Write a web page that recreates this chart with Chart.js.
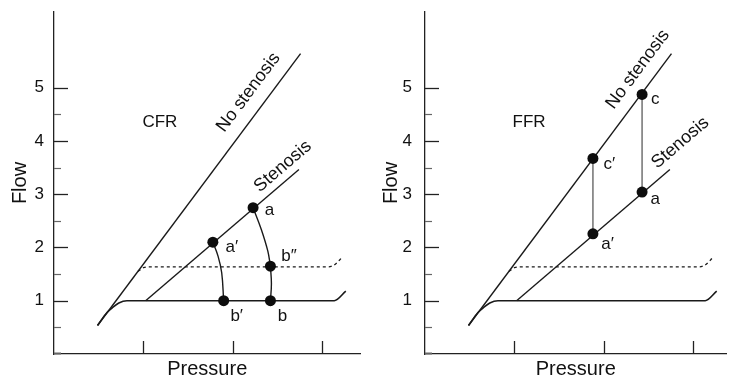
<!DOCTYPE html>
<html><head><meta charset="utf-8">
<script src="https://cdn.jsdelivr.net/npm/chart.js@4/dist/chart.umd.min.js"></script>
<style>
html,body{margin:0;padding:0;background:#fff;overflow:hidden}
.panel{position:absolute;top:0;width:366px;height:379px}
</style></head><body>
<div class="panel" style="left:0"><canvas id="cfr" width="366" height="379"></canvas></div>
<div class="panel" style="left:366px"><canvas id="ffr" width="366" height="379"></canvas></div>
<script>
// ---- axis ticks ----
const flowTickValues = [1, 2, 3, 4, 5];
const flowMinorTickValues = [0, 0.5, 1.5, 2.5, 3.5, 4.5];
const pressureTickValues = [1, 2, 3];

// ---- pressure-flow relations (shared by both panels) ----
const noStenosisX = [0.487, 2.758];
const noStenosisY = [0.535, 5.638];
const stenosisX = [1.025, 2.74];
const stenosisY = [1.0, 3.465];
const restFlowX = [0.487, 0.593, 0.652, 0.725, 0.816, 3.135, 3.264];
const restFlowY = [0.535, 0.779, 0.867, 0.957, 1.0, 1.0, 1.179];
const hyperFlowX = [0.94, 1.0, 1.08, 3.07, 3.15, 3.22];
const hyperFlowY = [1.55, 1.62, 1.635, 1.635, 1.69, 1.81];

// ---- CFR panel ----
const cfrPointLabels = ['a', 'a\u2032', 'b\u2033', 'b', 'b\u2032'];
const cfrPointX = [2.227, 1.777, 2.421, 2.421, 1.898];
const cfrPointY = [2.746, 2.10, 1.649, 1.0, 1.0];
const cfrLabelX = [2.41, 1.989, 2.63, 2.557, 2.044];
const cfrLabelY = [2.70, 1.994, 1.837, 0.71, 0.71];
const arcAB2X = [2.227, 2.319, 2.392, 2.421];
const arcAB2Y = [2.746, 2.338, 1.931, 1.649];
const arcB2BX = [2.421, 2.432, 2.421];
const arcB2BY = [1.649, 1.32, 1.0];
const arcA1B1X = [1.777, 1.835, 1.876, 1.898];
const arcA1B1Y = [2.10, 1.837, 1.525, 1.0];

// ---- FFR panel ----
const ffrPointLabels = ['c', 'c\u2032', 'a', 'a\u2032'];
const ffrPointX = [2.429, 1.879, 2.429, 1.879];
const ffrPointY = [4.873, 3.671, 3.039, 2.257];
const ffrLabelX = [2.575, 2.063, 2.575, 2.044];
const ffrLabelY = [4.779, 3.559, 2.901, 2.056];
const linkCAX = [2.429, 2.429];
const linkCAY = [4.873, 3.039];
const linkC1A1X = [1.879, 1.879];
const linkC1A1Y = [3.671, 2.257];

// ---- text annotations ----
const panelTitles = ['CFR', 'FFR'];
const panelTitleX = [1.184, 1.165];
const panelTitleY = [4.342, 4.342];
const curveNames = ['No stenosis', 'Stenosis'];
const curveNameX = { cfr: [2.176, 2.56], ffr: [2.381, 2.857] };
const curveNameY = { cfr: [4.911, 3.521], ffr: [5.343, 3.966] };

const FONT = '"Liberation Sans", Arial, Helvetica, sans-serif';
const INK = '#111';

function pts(xs, ys) { return xs.map((x, i) => ({ x: x, y: ys[i] })); }

function lineDs(xs, ys, extra) {
  return Object.assign({
    data: pts(xs, ys), showLine: true, pointRadius: 0, pointHoverRadius: 0,
    borderColor: '#1a1a1a', borderWidth: 1.4, tension: 0, fill: false, order: 2
  }, extra || {});
}

const decorPlugin = {
  id: 'decor',
  afterDraw(chart, args, o) {
    const { ctx, chartArea: a } = chart;
    const xs = chart.scales.x, ys = chart.scales.y;
    ctx.save();
    // inward tick marks
    ctx.lineWidth = 1.3;
    ctx.strokeStyle = '#222';
    flowTickValues.forEach(v => {
      const py = Math.round(ys.getPixelForValue(v)) + 0.5;
      ctx.beginPath(); ctx.moveTo(a.left, py); ctx.lineTo(a.left + 14, py); ctx.stroke();
    });
    pressureTickValues.forEach(v => {
      const px = Math.round(xs.getPixelForValue(v)) + 0.5;
      ctx.beginPath(); ctx.moveTo(px, a.bottom); ctx.lineTo(px, a.bottom - 13); ctx.stroke();
    });
    ctx.strokeStyle = '#666';
    flowMinorTickValues.forEach(v => {
      const py = Math.round(ys.getPixelForValue(v)) + (v === 0 ? -0.5 : 0.5);
      ctx.lineWidth = v === 0 ? 2 : 1.2;
      ctx.beginPath(); ctx.moveTo(a.left, py); ctx.lineTo(a.left + 7, py); ctx.stroke();
    });

    ctx.fillStyle = INK;
    ctx.textAlign = 'center';
    ctx.textBaseline = 'middle';
    // panel title
    ctx.font = '17px ' + FONT;
    ctx.fillText(o.title, xs.getPixelForValue(o.titleX), ys.getPixelForValue(o.titleY));
    // point labels
    o.labels.forEach((t, i) => {
      ctx.fillText(t, xs.getPixelForValue(o.labelX[i]), ys.getPixelForValue(o.labelY[i]));
    });
    // curve names rotated along their lines
    ctx.font = '18px ' + FONT;
    const lines = [[noStenosisX, noStenosisY], [stenosisX, stenosisY]];
    curveNames.forEach((t, i) => {
      const [lx, ly] = lines[i];
      const ang = Math.atan2(ys.getPixelForValue(ly[1]) - ys.getPixelForValue(ly[0]),
                             xs.getPixelForValue(lx[1]) - xs.getPixelForValue(lx[0]));
      ctx.save();
      ctx.translate(xs.getPixelForValue(o.nameX[i]), ys.getPixelForValue(o.nameY[i]));
      ctx.rotate(ang);
      ctx.fillText(t, 0, 0);
      ctx.restore();
    });
    ctx.restore();
  }
};

function makeChart(id, datasets, yWidth, xMax, yLabelPad, yTitlePad, decor) {
  return new Chart(document.getElementById(id), {
    type: 'scatter',
    data: { datasets: datasets },
    plugins: [decorPlugin],
    options: {
      responsive: false, animation: false, devicePixelRatio: 1,
      layout: { padding: { top: 12, left: 0, right: 0, bottom: 0 } },
      plugins: { legend: { display: false }, tooltip: { enabled: false }, decor: decor },
      scales: {
        x: {
          type: 'linear', min: 0, max: xMax,
          grid: { display: false, drawTicks: false },
          border: { display: true, color: '#222', width: 1.3 },
          ticks: { display: false },
          afterBuildTicks: s => { s.ticks = pressureTickValues.map(v => ({ value: v })); },
          afterFit: s => { s.height = 25; s.paddingLeft = 0; s.paddingRight = 0; },
          title: { display: true, text: 'Pressure', color: INK,
                   font: { family: FONT, size: 20, lineHeight: 1 }, padding: { top: 0, bottom: 0 } }
        },
        y: {
          type: 'linear', min: 0, max: 6.42,
          grid: { display: false, drawTicks: false },
          border: { display: true, color: '#222', width: 1.3 },
          ticks: { color: INK, padding: yLabelPad, font: { family: FONT, size: 17 } },
          afterBuildTicks: s => { s.ticks = flowTickValues.map(v => ({ value: v })); },
          afterFit: s => { s.width = yWidth; s.paddingTop = 0; s.paddingBottom = 0; },
          title: { display: true, text: 'Flow', color: INK,
                   font: { family: FONT, size: 20, lineHeight: 1 }, padding: { top: yTitlePad, bottom: 0 } }
        }
      }
    }
  });
}

function baseCurves() {
  return [
    lineDs(noStenosisX, noStenosisY),
    lineDs(stenosisX, stenosisY),
    lineDs(restFlowX, restFlowY, { cubicInterpolationMode: 'monotone', borderWidth: 1.6 }),
    lineDs(hyperFlowX, hyperFlowY, { cubicInterpolationMode: 'monotone', borderDash: [3, 3], borderWidth: 1.4 })
  ];
}

function pointDs(xs, ys) {
  return { data: pts(xs, ys), pointRadius: 5.5, pointHoverRadius: 5.5,
           backgroundColor: '#0d0d0d', borderColor: '#0d0d0d', borderWidth: 0, order: 0 };
}

makeChart('cfr', [pointDs(cfrPointX, cfrPointY)].concat(baseCurves(), [
  lineDs(arcAB2X, arcAB2Y, { tension: 0.4 }),
  lineDs(arcB2BX, arcB2BY, { tension: 0.4 }),
  lineDs(arcA1B1X, arcA1B1Y, { tension: 0.4 })
]), 54, (366 - 54) / 91, 10, 10, {
  title: panelTitles[0], titleX: panelTitleX[0], titleY: panelTitleY[0],
  labels: cfrPointLabels, labelX: cfrLabelX, labelY: cfrLabelY,
  nameX: curveNameX.cfr, nameY: curveNameY.cfr
});

makeChart('ffr', [pointDs(ffrPointX, ffrPointY)].concat(baseCurves(), [
  lineDs(linkCAX, linkCAY, { borderColor: '#7a7a7a', borderWidth: 1.6 }),
  lineDs(linkC1A1X, linkC1A1Y, { borderColor: '#7a7a7a', borderWidth: 1.6 })
]), 59, (366 - 59) / 91, 13, 15, {
  title: panelTitles[1], titleX: panelTitleX[1], titleY: panelTitleY[1],
  labels: ffrPointLabels, labelX: ffrLabelX, labelY: ffrLabelY,
  nameX: curveNameX.ffr, nameY: curveNameY.ffr
});
</script>
</body></html>
